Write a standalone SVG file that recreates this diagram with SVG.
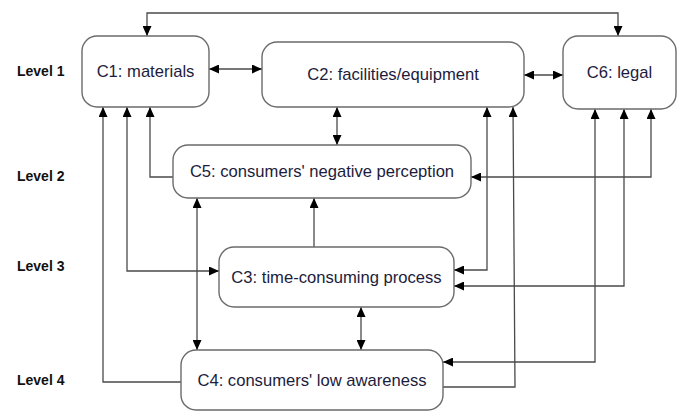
<svg xmlns="http://www.w3.org/2000/svg" width="683" height="411" viewBox="0 0 683 411">
<style>
.box{fill:#fff;stroke:#6b6b6b;stroke-width:1.4}
.t{font-family:"Liberation Sans",Arial,sans-serif;font-size:16.6px;fill:#1c1c3c;text-anchor:middle}
.lv{font-family:"Liberation Sans",Arial,sans-serif;font-size:14px;font-weight:bold;fill:#111}
.c{fill:none;stroke:#4a4a4a;stroke-width:1.3}
.b{marker-start:url(#ar);marker-end:url(#ar)}
.e{marker-end:url(#ar)}
</style>
<defs>
<marker id="ar" markerUnits="userSpaceOnUse" markerWidth="11" markerHeight="9" refX="10" refY="4.5" orient="auto-start-reverse" viewBox="0 0 11 9">
<path d="M0,0 L10,4.5 L0,9 z" fill="#000"/>
</marker>
</defs>
<g id="levels">
<text class="lv" x="17" y="76">Level 1</text>
<text class="lv" x="17" y="181">Level 2</text>
<text class="lv" x="17" y="271">Level 3</text>
<text class="lv" x="17" y="385">Level 4</text>
</g>
<g id="connectors">
<path class="c b" d="M147,36 V13 H618 V36"/>
<path class="c b" d="M209,69 H262"/>
<path class="c b" d="M524,75 H563"/>
<path class="c b" d="M337,107 V145"/>
<path class="c e" d="M173,177 H150 V107"/>
<path class="c b" d="M219,271 H127 V107"/>
<path class="c e" d="M181,382 H103 V107"/>
<path class="c b" d="M197,198 V350"/>
<path class="c e" d="M314,247 V198"/>
<path class="c b" d="M361,307 V350"/>
<path class="c b" d="M454,270 H487 V107"/>
<path class="c e" d="M443,387 H515 L513,107"/>
<path class="c b" d="M471,177 H651 V109"/>
<path class="c b" d="M454,286 H624 V109"/>
<path class="c b" d="M443,362 H595 V109"/>
</g>
<g id="C1"><rect class="box" x="82" y="36" width="127" height="71" rx="15"/><text class="t" x="145.5" y="77">C1: materials</text></g>
<g id="C2"><rect class="box" x="262" y="42" width="262" height="65" rx="15"/><text class="t" x="393" y="80">C2: facilities/equipment</text></g>
<g id="C6"><rect class="box" x="563" y="36" width="113" height="73" rx="15"/><text class="t" x="619.5" y="78">C6: legal</text></g>
<g id="C5"><rect class="box" x="173" y="145" width="298" height="53" rx="15"/><text class="t" x="322" y="177">C5: consumers' negative perception</text></g>
<g id="C3"><rect class="box" x="219" y="247" width="235" height="60" rx="15"/><text class="t" x="336.5" y="283">C3: time-consuming process</text></g>
<g id="C4"><rect class="box" x="181" y="350" width="262" height="60" rx="15"/><text class="t" x="312" y="386">C4: consumers' low awareness</text></g>
</svg>
